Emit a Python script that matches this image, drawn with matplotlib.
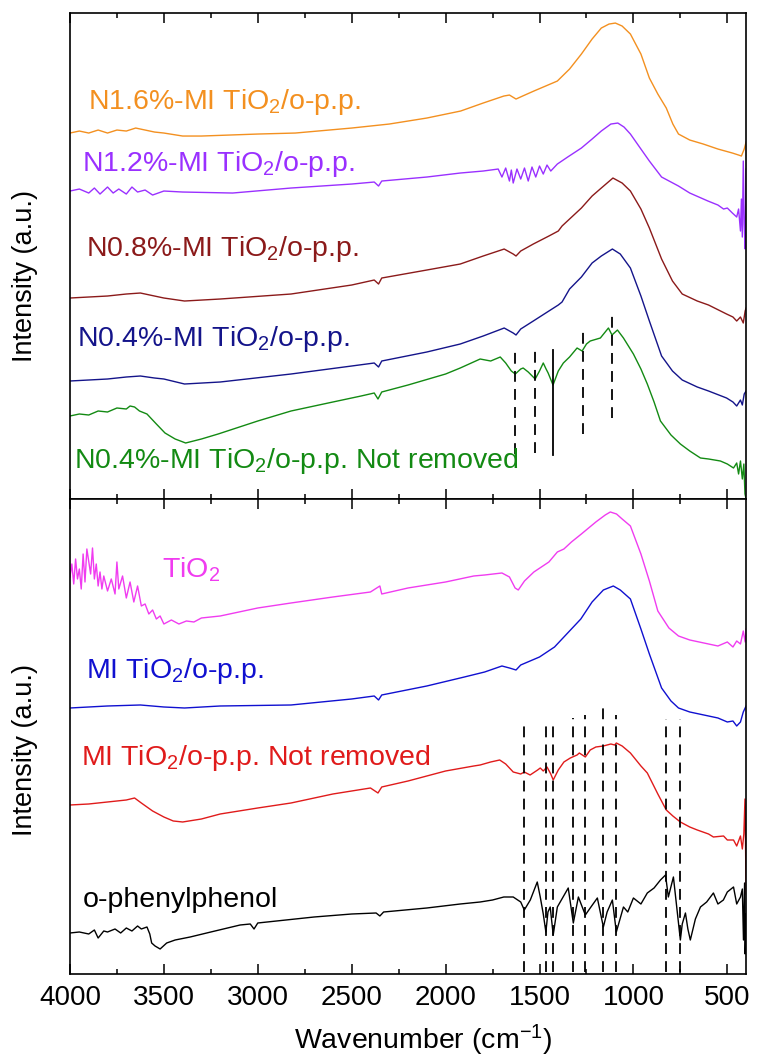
import numpy as np
import matplotlib
matplotlib.use("Agg")
import matplotlib.pyplot as plt
from matplotlib.ticker import MultipleLocator

plt.rcParams['font.family'] = ['Liberation Sans', 'DejaVu Sans']
plt.rcParams['mathtext.default'] = 'regular'

# ---- top panel spectra (wavenumber, intensity a.u.) ----
orange_wn = [4000, 3950, 3900, 3850, 3800, 3750, 3700, 3650, 3600, 3550, 3500, 3400, 3300, 3000, 2800,
             2500, 2300, 2100, 1920, 1800, 1690, 1660, 1625, 1590, 1530, 1405, 1340, 1277, 1220, 1171,
             1130, 1096, 1060, 1016, 960, 915, 870, 825, 790, 760, 700, 628, 550, 473, 440, 425, 410, 400]
orange_y = [366, 368, 366, 369, 366, 369, 368, 371, 369, 367, 366, 363, 363, 365, 366,
            371, 375, 381, 388, 396, 403, 404, 400, 403, 408, 418, 430, 445, 460, 471,
            475, 476, 473, 465, 445, 421, 405, 391, 375, 365, 359, 355, 350, 346, 344, 343, 350, 357]

purple_wn = [4000, 3950, 3900, 3870, 3840, 3800, 3770, 3740, 3700, 3670, 3640, 3600, 3560, 3500, 3400,
             3134, 2823, 2500, 2380, 2357, 2340, 2100, 1922, 1800, 1720, 1700, 1680, 1660, 1650, 1640,
             1620, 1600, 1580, 1560, 1540, 1520, 1500, 1480, 1460, 1440, 1405, 1350, 1277, 1220, 1171,
             1120, 1083, 1050, 1016, 960, 915, 850, 760, 700, 603, 550, 520, 500, 473, 450, 440, 430,
             425, 420, 415, 410, 405, 400]
purple_y = [308, 310, 306, 311, 305, 312, 306, 310, 305, 312, 307, 309, 304, 308, 307,
            306, 311, 315, 317, 313, 318, 322, 326, 328, 330, 322, 331, 318, 329, 316,
            330, 320, 331, 318, 332, 322, 333, 325, 334, 328, 335, 342, 351, 360, 368,
            375, 376, 372, 365, 350, 338, 322, 313, 306, 298, 294, 290, 291, 286, 282, 290, 268,
            300, 262, 338, 275, 250, 330]

brown_wn = [4000, 3900, 3800, 3700, 3625, 3550, 3500, 3390, 3200, 2823, 2500, 2380, 2357, 2340, 2100,
            1922, 1800, 1688, 1640, 1625, 1600, 1533, 1450, 1400, 1380, 1340, 1277, 1220, 1171, 1109,
            1060, 1016, 960, 915, 850, 792, 740, 660, 600, 504, 470, 450, 430, 415, 405, 400]
brown_y = [201, 202, 203, 205, 206, 203, 201, 198, 200, 205, 214, 219, 215, 221, 229,
           235, 243, 250, 245, 243, 248, 255, 263, 268, 273, 280, 291, 303, 311, 321,
           316, 308, 290, 271, 240, 218, 205, 198, 194, 185, 182, 178, 182, 176, 188, 191]

navy_wn = [4000, 3900, 3800, 3700, 3625, 3550, 3500, 3390, 3200, 2823, 2500, 2380, 2357, 2340, 2100,
           1922, 1800, 1688, 1640, 1625, 1600, 1533, 1450, 1400, 1380, 1340, 1277, 1220, 1171, 1112,
           1070, 1016, 960, 915, 850, 792, 740, 660, 600, 504, 470, 450, 430, 420, 410, 400]
navy_y = [118, 119, 120, 122, 123, 121, 120, 115, 117, 125, 133, 136, 132, 138, 147,
          155, 163, 171, 166, 164, 170, 178, 188, 194, 197, 210, 222, 236, 243, 250,
          245, 231, 203, 178, 143, 128, 119, 112, 108, 101, 97, 93, 99, 94, 105, 108]

green_wn = [4000, 3950, 3900, 3850, 3800, 3750, 3700, 3680, 3656, 3630, 3590, 3540, 3494, 3440, 3384,
            3300, 3211, 3000, 2823, 2600, 2450, 2380, 2360, 2340, 2200, 2000, 1922, 1816, 1760, 1709,
            1680, 1650, 1629, 1600, 1587, 1560, 1523, 1500, 1480, 1465, 1454, 1428, 1400, 1373, 1340,
            1300, 1273, 1250, 1230, 1176, 1133, 1114, 1085, 1053, 1000, 960, 926, 890, 856, 800,
            750, 700, 643, 600, 537, 500, 467, 450, 440, 430, 420, 412, 406, 400]
green_y = [83, 85, 84, 88, 87, 91, 90, 93, 92, 88, 85, 75, 66, 60, 56,
           60, 65, 78, 88, 97, 103, 106, 100, 107, 114, 125, 131, 140, 138, 142,
           136, 128, 125, 130, 131, 127, 120, 128, 136, 130, 126, 114, 128, 136, 142,
           151, 148, 155, 158, 161, 171, 164, 169, 161, 145, 130, 115, 97, 78, 64,
           55, 48, 41, 40, 38, 35, 31, 36, 25, 38, 20, 35, 5, 0]

# ---- bottom panel spectra ----
magenta_wn = [4000, 3990, 3980, 3970, 3960, 3950, 3940, 3930, 3920, 3910, 3890, 3880, 3870, 3860, 3850,
              3840, 3830, 3820, 3800, 3780, 3760, 3750, 3740, 3720, 3700, 3680, 3660, 3640, 3620, 3600,
              3580, 3560, 3540, 3520, 3500, 3460, 3420, 3380, 3340, 3300, 3200, 3100, 3000, 2823, 2600,
              2400, 2350, 2340, 2200, 2000, 1850, 1792, 1700, 1660, 1630, 1613, 1580, 1530, 1450, 1405,
              1370, 1330, 1277, 1200, 1150, 1123, 1090, 1060, 1016, 960, 915, 870, 811, 760, 700,
              600, 550, 500, 470, 450, 430, 415, 405, 400]
magenta_y = [397, 410, 390, 415, 395, 405, 385, 420, 392, 425, 400, 426, 395, 410, 388,
             402, 385, 398, 383, 395, 380, 412, 385, 398, 376, 392, 372, 388, 368, 370,
             360, 364, 355, 358, 350, 354, 350, 353, 352, 356, 358, 362, 366, 371, 377,
             382, 388, 380, 386, 392, 398, 399, 401, 397, 386, 384, 393, 402, 412, 422,
             425, 432, 440, 452, 459, 462, 460, 455, 448, 420, 393, 363, 346, 338, 334,
             330, 328, 332, 327, 333, 330, 343, 332, 345]

blue_wn = [4000, 3800, 3625, 3500, 3390, 3200, 2823, 2500, 2380, 2357, 2340, 2100, 1900, 1792, 1700,
           1660, 1625, 1600, 1500, 1420, 1380, 1330, 1280, 1220, 1160, 1107, 1070, 1016, 960, 915,
           850, 800, 760, 700, 600, 550, 500, 470, 450, 430, 415, 400]
blue_y = [266, 268, 269, 267, 266, 268, 269, 275, 278, 274, 279, 288, 297, 302, 308,
          306, 304, 309, 317, 327, 335, 345, 355, 372, 384, 388, 384, 375, 345, 320,
          286, 273, 266, 262, 258, 256, 252, 253, 248, 252, 262, 268]

red_wn = [4000, 3900, 3800, 3700, 3656, 3620, 3560, 3500, 3450, 3400, 3300, 3200, 3000, 2823, 2600,
          2400, 2360, 2340, 2200, 2000, 1850, 1816, 1760, 1712, 1680, 1640, 1600, 1581, 1550, 1510,
          1496, 1480, 1460, 1440, 1427, 1400, 1370, 1336, 1300, 1288, 1256, 1230, 1200, 1160, 1120,
          1100, 1091, 1060, 1016, 960, 926, 870, 825, 790, 750, 700, 660, 600, 574, 520,
          500, 467, 450, 430, 420, 412, 406, 403, 400]
red_y = [169, 170, 172, 174, 176, 171, 163, 157, 153, 152, 155, 160, 166, 171, 180,
         186, 181, 187, 193, 203, 208, 209, 212, 214, 210, 202, 200, 202, 199, 204,
         206, 203, 207, 200, 194, 204, 212, 216, 219, 221, 217, 224, 227, 228, 230,
         229, 231, 228, 221, 208, 201, 180, 164, 158, 152, 147, 144, 140, 137, 138,
         134, 134, 128, 138, 125, 140, 175, 130, 80]

black_wn = [4000, 3950, 3900, 3870, 3850, 3820, 3800, 3760, 3730, 3700, 3670, 3640, 3620, 3590, 3575,
            3565, 3547, 3520, 3485, 3440, 3360, 3250, 3094, 3040, 3020, 3000, 2900, 2700, 2500, 2370,
            2350, 2330, 2100, 1922, 1816, 1750, 1690, 1640, 1600, 1581, 1549, 1512, 1496, 1480, 1466,
            1455, 1443, 1427, 1405, 1347, 1320, 1293, 1256, 1230, 1192, 1160, 1140, 1112, 1091, 1053,
            1030, 1000, 960, 926, 890, 856, 829, 814, 787, 750, 740, 723, 710, 697, 670,
            643, 610, 574, 550, 521, 500, 467, 450, 430, 420, 414, 408, 405, 400]
black_y = [41, 42, 40, 44, 36, 43, 42, 45, 41, 46, 43, 48, 45, 47, 40,
           31, 28, 25, 31, 34, 37, 42, 49, 50, 45, 51, 53, 57, 60, 61,
           58, 62, 66, 70, 72, 74, 77, 77, 72, 64, 74, 92, 77, 60, 42,
           62, 67, 39, 67, 86, 51, 77, 59, 66, 76, 47, 62, 74, 42, 67,
           62, 76, 70, 81, 86, 94, 99, 77, 97, 34, 50, 61, 45, 34, 55,
           67, 72, 81, 70, 74, 82, 87, 70, 77, 85, 34, 91, 20, 60]

# reference lines (wavenumber, y bottom, y top)
top_dashed_wn = [1629, 1523, 1267, 1114]
top_dashed_lo = [45, 46, 65, 81]
top_dashed_hi = [152, 152, 170, 186]
top_solid_wn = 1428
bot_dashed_wn = [1581, 1466, 1427, 1320, 1256, 1160, 1091, 825, 750]
bot_dashed_hi = [250, 254, 254, 256, 259, 267, 259, 255, 255]

fig = plt.figure(figsize=(7.58, 10.61), dpi=100)
ax1 = fig.add_axes([0.0923, 0.5297, 0.892, 0.4580])
ax2 = fig.add_axes([0.0923, 0.0820, 0.892, 0.4477])

lw = 1.0
c_or, c_pu, c_br, c_nv, c_gr = '#f39020', '#9a30ff', '#8b1a1a', '#14148a', '#138a13'
c_mg, c_bl, c_rd = '#f03cf0', '#1010d0', '#e01b1b'

ax1.plot(orange_wn, orange_y, color=c_or, lw=lw)
ax1.plot(purple_wn, purple_y, color=c_pu, lw=lw)
ax1.plot(brown_wn, brown_y, color=c_br, lw=lw)
ax1.plot(navy_wn, navy_y, color=c_nv, lw=lw)
ax1.plot(green_wn, green_y, color=c_gr, lw=lw)
for w, lo, hi in zip(top_dashed_wn, top_dashed_lo, top_dashed_hi):
    ax1.plot([w, w], [lo, hi], color='black', lw=1.3, dashes=[6, 4])
ax1.plot([top_solid_wn, top_solid_wn], [44, 149], color='black', lw=1.3)

ax2.plot(magenta_wn, magenta_y, color=c_mg, lw=lw)
ax2.plot(blue_wn, blue_y, color=c_bl, lw=lw)
ax2.plot(red_wn, red_y, color=c_rd, lw=lw)
ax2.plot(black_wn, black_y, color='black', lw=lw)
for w, hi in zip(bot_dashed_wn, bot_dashed_hi):
    ax2.plot([w, w], [2, hi], color='black', lw=1.3, dashes=[6, 4])

fs = 20.5
ax1.text(3904, 390, 'N1.6%-MI TiO$_2$/o-p.p.', color=c_or, fontsize=fs)
ax1.text(3934, 328, 'N1.2%-MI TiO$_2$/o-p.p.', color=c_pu, fontsize=fs)
ax1.text(3913, 243, 'N0.8%-MI TiO$_2$/o-p.p.', color=c_br, fontsize=fs)
ax1.text(3960, 153, 'N0.4%-MI TiO$_2$/o-p.p.', color=c_nv, fontsize=fs)
ax1.text(3981, 31, 'N0.4%-MI TiO$_2$/o-p.p. Not removed', color=c_gr, fontsize=fs)

ax2.text(3509, 396, 'TiO$_2$', color=c_mg, fontsize=fs)
ax2.text(3913, 296, 'MI TiO$_2$/o-p.p.', color=c_bl, fontsize=fs)
ax2.text(3940, 209, 'MI TiO$_2$/o-p.p. Not removed', color=c_rd, fontsize=fs)
ax2.text(3934, 67, 'o-phenylphenol', color='black', fontsize=fs)

ax1.set_ylim(0, 486)
ax2.set_ylim(0, 475)
for ax in (ax1, ax2):
    ax.set_xlim(4000, 400)
    ax.xaxis.set_major_locator(MultipleLocator(500))
    ax.xaxis.set_minor_locator(MultipleLocator(250))
    ax.tick_params(axis='x', which='both', direction='in', top=True, bottom=True, width=1.1)
    ax.tick_params(axis='x', which='major', length=7)
    ax.tick_params(axis='x', which='minor', length=3.5)
    ax.set_yticks([])
    for s in ax.spines.values():
        s.set_linewidth(1.2)

ax1.tick_params(axis='x', labelbottom=False)
ax2.tick_params(axis='x', labelsize=20, pad=8)

fig.text(25 / 758, 1 - 276 / 1061, 'Intensity (a.u.)', rotation=90, ha='center', va='center', fontsize=19.5)
fig.text(25 / 758, 1 - 750 / 1061, 'Intensity (a.u.)', rotation=90, ha='center', va='center', fontsize=19.5)
fig.text(423 / 758, 1 - 1040 / 1061, 'Wavenumber (cm$^{-1}$)', ha='center', va='center', fontsize=20.5)

fig.savefig('out.png', dpi=100)
